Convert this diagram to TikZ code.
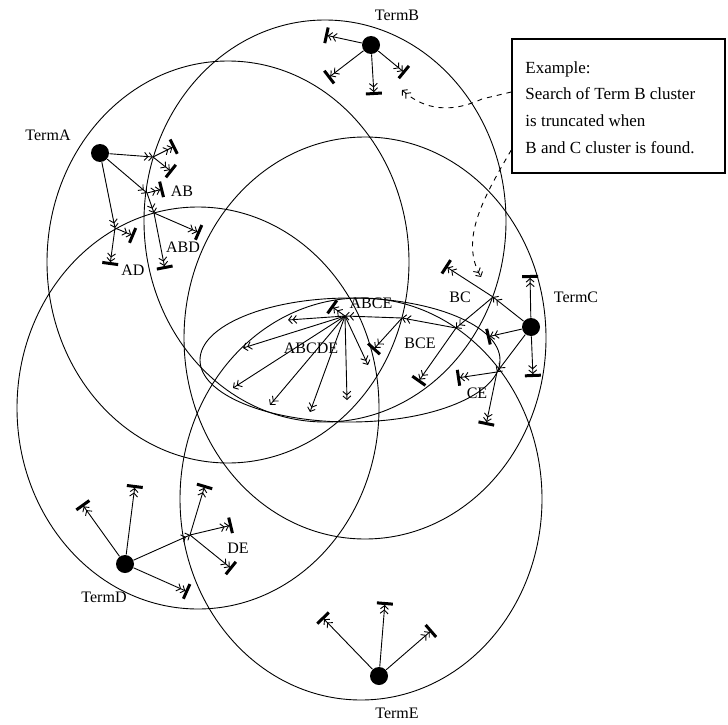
\documentclass[tikz,border=0pt]{standalone}
\usepackage{fontspec}
\setmainfont{Liberation Serif}
\usetikzlibrary{arrows.meta}

\begin{document}
\begin{tikzpicture}[x=1pt, y=-1pt, line width=0.9pt,
    toward/.style={-{Straight Barb[length=3.5pt,width=8pt]Straight Barb[length=3.5pt,width=8pt]}},
    tobar/.style={-{Straight Barb[length=3.5pt,width=8pt]Straight Barb[length=3.5pt,width=8pt]Bar[width=16pt,line width=3pt]}},
    term/.style={circle, fill, inner sep=0pt, minimum size=18pt},
    lbl/.style={inner sep=0pt, font=\fontsize{16}{18}\selectfont}]
          \useasboundingbox (0,0) rectangle (728,725);

          % CIRCLES:
          \draw (228,262) ellipse [x radius=181, y radius=201];
          \draw (325,221) ellipse [x radius=181, y radius=201];
          \draw (365,338) ellipse [x radius=181, y radius=201];
          \draw (198,408) ellipse [x radius=181, y radius=201];
          \draw (361,499) ellipse [x radius=181, y radius=201];
          \draw (350,360) ellipse [x radius=150, y radius=62];

          % NODES
          \node[term] (A) at (100,153) {};
          \node[term] (B) at (371,45) {};
          \node[term] (C) at (531,327) {};
          \node[term] (D) at (125,564) {};
          \node[term] (E) at (379,676) {};
          \node[lbl] (labA) at (48,135) {TermA};
          \node[lbl] (labB) at (397,15) {TermB};
          \node[lbl] (labC) at (576,297) {TermC};
          \node[lbl] (labD) at (104,597) {TermD};
          \node[lbl] (labE) at (397,713) {TermE};

          % junctions where a search crosses another circle
          \coordinate (ab1) at (153,157);
          \coordinate (ab) at (147,193);
          \coordinate (abd) at (154,213);
          \coordinate (ad) at (115,228);
          \coordinate (bc) at (493,297);
          \coordinate (bce) at (456,328);
          \coordinate (abce) at (402,318);
          \coordinate (abcde) at (345,316);
          \coordinate (ce) at (497,372);
          \coordinate (de) at (190,535);
          \node[lbl] (labAB) at (182,191) {AB};
          \node[lbl] (labABD) at (183,247) {ABD};
          \node[lbl] (labAD) at (133,270) {AD};
          \node[lbl] (labBC) at (460,297) {BC};
          \node[lbl] (labBCE) at (420,343) {BCE};
          \node[lbl] (labCE) at (477,393) {CE};
          \node[lbl] (labDE) at (238,548) {DE};
          \node[lbl] (labABCE) at (371,303) {ABCE};
          \node[lbl] (labABCDE) at (311,348) {ABCDE};

          % end points
          \coordinate (a1) at (175,146);
          \coordinate (a2) at (172,172);
          \coordinate (a3) at (163,189);
          \coordinate (a4) at (200,233);
          \coordinate (a5) at (165,269);
          \coordinate (a6) at (134,236);
          \coordinate (a7) at (110,265);
          \coordinate (b1) at (325,35);
          \coordinate (b2) at (328,78);
          \coordinate (b3) at (374,95);
          \coordinate (b4) at (405,73);
          \coordinate (c1) at (530,275);
          \coordinate (c2) at (487,337);
          \coordinate (c3) at (533,377);
          \coordinate (c4) at (445,266);
          \coordinate (c5) at (418,382);
          \coordinate (c6) at (373,350);
          \coordinate (c7) at (331,306);
          \coordinate (c8) at (457,378);
          \coordinate (c9) at (486,425);
          \coordinate (f1) at (288,320);
          \coordinate (f2) at (243,348);
          \coordinate (f3) at (233,388);
          \coordinate (f4) at (270,405);
          \coordinate (f5) at (310,412);
          \coordinate (f6) at (347,400);
          \coordinate (f7) at (368,365);
          \coordinate (d1) at (82,504);
          \coordinate (d2) at (135,485);
          \coordinate (d3) at (188,592);
          \coordinate (d4) at (205,485);
          \coordinate (d5) at (232,525);
          \coordinate (d6) at (232,569);
          \coordinate (e1) at (322,617);
          \coordinate (e2) at (385,602);
          \coordinate (e3) at (432,630);

          % LINES:
          \draw[toward] (A) -- (ab1);
          \draw[tobar] (ab1) -- (a1);
          \draw[tobar] (ab1) -- (a2);
          \draw[toward] (A) -- (ab);
          \draw[tobar] (ab) -- (a3);
          \draw[toward] (ab) -- (abd);
          \draw[tobar] (abd) -- (a4);
          \draw[tobar] (abd) -- (a5);
          \draw[toward] (A) -- (ad);
          \draw[tobar] (ad) -- (a6);
          \draw[tobar] (ad) -- (a7);

          \draw[tobar] (B) -- (b1);
          \draw[tobar] (B) -- (b2);
          \draw[tobar] (B) -- (b3);
          \draw[tobar] (B) -- (b4);

          \draw[tobar] (C) -- (c1);
          \draw[tobar] (C) -- (c2);
          \draw[tobar] (C) -- (c3);
          \draw[toward] (C) -- (bc);
          \draw[tobar] (bc) -- (c4);
          \draw[toward] (bc) -- (bce);
          \draw[tobar] (bce) -- (c5);
          \draw[toward] (bce) -- (abce);
          \draw[tobar] (abce) -- (c6);
          \draw[toward] (abce) -- (abcde);
          \draw[tobar] (abcde) -- (c7);
          \draw[toward] (C) -- (ce);
          \draw[tobar] (ce) -- (c8);
          \draw[tobar] (ce) -- (c9);

          % all five clusters meet
          \draw[toward] (abcde) -- (f1);
          \draw[toward] (abcde) -- (f2);
          \draw[toward] (abcde) -- (f3);
          \draw[toward] (abcde) -- (f4);
          \draw[toward] (abcde) -- (f5);
          \draw[toward] (abcde) -- (f6);
          \draw[toward] (abcde) -- (f7);

          \draw[tobar] (D) -- (d1);
          \draw[tobar] (D) -- (d2);
          \draw[tobar] (D) -- (d3);
          \draw[toward] (D) -- (de);
          \draw[tobar] (de) -- (d4);
          \draw[tobar] (de) -- (d5);
          \draw[tobar] (de) -- (d6);

          \draw[tobar] (E) -- (e1);
          \draw[tobar] (E) -- (e2);
          \draw[tobar] (E) -- (e3);

          % NOTE
          \node[draw, line width=1.4pt, minimum width=213pt, minimum height=134pt] (note) at (618.5,106) {};
          \node[anchor=north west, align=left, inner sep=0pt, font=\fontsize{17}{26.7}\selectfont] (notetext) at (525,61)
               {Example:\\Search of Term B cluster\\is truncated when\\B and C cluster is found.};
          \coordinate (hintB) at (402,90);
          \coordinate (hintC) at (481,277);
          \draw[dash pattern=on 5pt off 5pt, toward] ([yshift=14pt]note.west) -- (482,99) .. controls (445,116) and (420,106) .. (hintB);
          \draw[dash pattern=on 5pt off 5pt, toward] ([yshift=-44pt]note.west) .. controls (482,200) and (460,240) .. (hintC);
\end{tikzpicture}
\end{document}
